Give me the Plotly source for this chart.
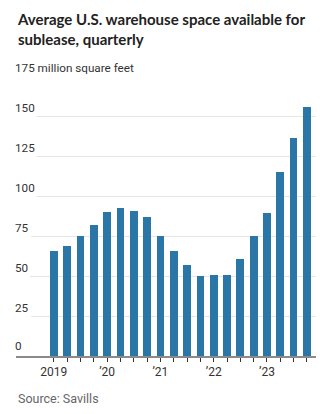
import plotly.graph_objects as go

quarters = ["2019Q1","2019Q2","2019Q3","2019Q4","2020Q1","2020Q2","2020Q3","2020Q4",
            "2021Q1","2021Q2","2021Q3","2021Q4","2022Q1","2022Q2","2022Q3","2022Q4",
            "2023Q1","2023Q2","2023Q3","2023Q4"]
values = [65.9, 69.0, 74.8, 82.1, 90.2, 92.2, 90.8, 87.1,
          74.8, 65.9, 56.8, 49.8, 50.4, 50.4, 60.9, 75.2,
          89.6, 115.2, 136.0, 155.7]
year_labels = {"2019Q1": "2019", "2020Q1": "\u201920", "2021Q1": "\u201921",
               "2022Q1": "\u201922", "2023Q1": "\u201923"}
y_ticks = [0, 25, 50, 75, 100, 125, 150, 175]
y_tick_text = ["0", "25", "50", "75", "100", "125", "150", "175 million square feet"]

xpos = list(range(len(quarters)))
label_font = "Liberation Sans Narrow, Roboto, sans-serif"

fig = go.Figure()
fig.add_trace(go.Bar(x=xpos, y=values, marker_color="#2a77a7", width=0.58,
                     marker_line_width=0, hoverinfo="skip"))

ann = []
for v, t in zip(y_ticks, y_tick_text):
    if v == 0:
        continue
    ann.append(dict(x=0, xref="paper", y=v, yref="y", text=t, showarrow=False,
                    xanchor="left", yanchor="bottom", xshift=-3, yshift=-1,
                    bgcolor="white", borderpad=2, borderwidth=0,
                    font=dict(family=label_font, size=11.7, color="#333")))
ann.append(dict(x=0, xref="paper", y=0, yref="y", text="0", showarrow=False,
                xanchor="left", yanchor="bottom", xshift=-3, yshift=1,
                font=dict(family=label_font, size=11.7, color="#333")))
ann.append(dict(x=0, xref="paper", y=-0.153, yref="paper", text="Source: Savills",
                showarrow=False, xanchor="left", yanchor="middle",
                font=dict(family=label_font, size=12.5, color="#666")))
ann.append(dict(x=0, xref="paper", y=(356 - 8) / 280, yref="paper",
                text="Average U.S. warehouse space available for<br>sublease, quarterly",
                showarrow=False, xanchor="left", yanchor="top", align="left",
                xshift=-1,
                font=dict(family="Lato, sans-serif", size=15, color="#222", weight="bold")))

fig.update_layout(
    width=325, height=414,
    margin=dict(l=16, r=9, t=76, b=58),
    paper_bgcolor="white", plot_bgcolor="white",
    showlegend=False,
    xaxis=dict(range=[-2.84, 19.68], tickvals=xpos,
               ticktext=[year_labels.get(q, "") for q in quarters],
               ticks="outside", ticklen=4, tickwidth=1, tickcolor="#333",
               showgrid=False, showline=True, linecolor="#8a8a8a", linewidth=2,
               tickfont=dict(family=label_font, size=12, color="#333"),
               zeroline=False, fixedrange=True),
    yaxis=dict(range=[0, 175], tickvals=y_ticks, showticklabels=False,
               showgrid=True, gridcolor="#e6e6e6", gridwidth=1,
               zeroline=False, showline=False, fixedrange=True),
    annotations=ann,
    bargap=0,
)

fig.write_html("out.html")
